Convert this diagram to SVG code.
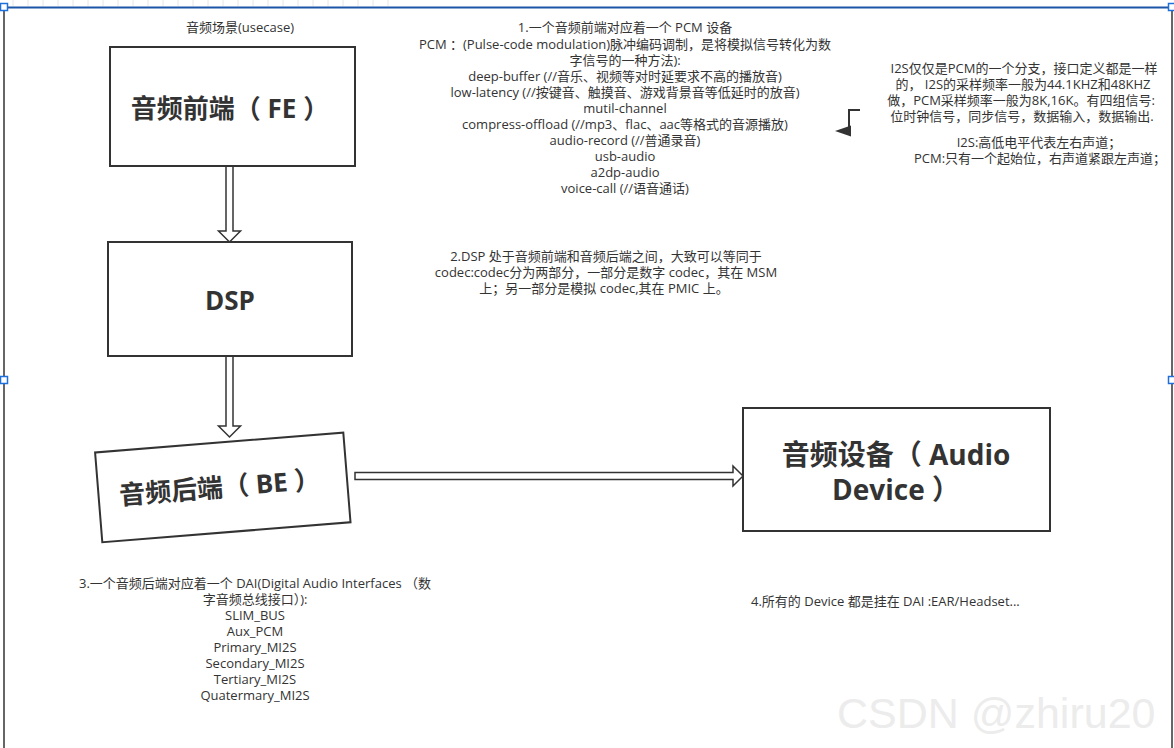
<svg xmlns="http://www.w3.org/2000/svg" width="1174" height="748" viewBox="0 0 1174 748">
<style>
.t{font-family:"Open Sans","Noto Sans CJK SC",sans-serif;font-size:13px;fill:#333;text-anchor:middle}
.l{text-anchor:start}
.b{font-family:"Open Sans","Noto Sans CJK SC",sans-serif;font-weight:bold;fill:#333;text-anchor:middle}
.box{fill:#fff;stroke:#333;stroke-width:2}
.arr{fill:#fff;stroke:#333;stroke-width:1.5;stroke-linejoin:miter}
.h{fill:#fff;stroke:#1e6fd9;stroke-width:1.5}
.g{stroke:#e6e6e6;stroke-width:1}
</style>
<rect x="0" y="0" width="1174" height="748" fill="#fff"/>
<g id="grid">
<path class="g" d="M13,0V6M28,0V6M43,0V6M58,0V6M73,0V6M88,0V6M103,0V6M118,0V6M133,0V6M148,0V6M163,0V6M178,0V6M193,0V6M208,0V6M223,0V6M238,0V6M253,0V6M268,0V6M283,0V6M298,0V6M313,0V6M328,0V6M343,0V6M358,0V6M373,0V6M388,0V6"/>
</g>
<g id="frame">
<line x1="4" y1="7" x2="4" y2="748" stroke="#333" stroke-width="1.5"/>
<line x1="1172" y1="7" x2="1172" y2="748" stroke="#333" stroke-width="1.5"/>
<line x1="4" y1="7.5" x2="1172" y2="7.5" stroke="#1a55a8" stroke-width="2"/>
<rect class="h" x="0.5" y="3.5" width="7" height="7"/>
<rect class="h" x="1168.5" y="3.5" width="7" height="7"/>
<rect class="h" x="0.5" y="376.5" width="7" height="7"/>
<rect class="h" x="1168.5" y="376.5" width="7" height="7"/>
</g>
<g id="connectors">
<polygon class="arr" points="226,166 233,166 233,231 240.5,231 229.5,242 218.5,231 226,231"/>
<polygon class="arr" points="226,356 233,356 233,426 240.5,426 229.5,437 218.5,426 226,426"/>
<polygon class="arr" points="355,472.5 733,472.5 733,466 743,476 733,486 733,479.5 355,479.5"/>
<path d="M860,110H849V132" fill="none" stroke="#333" stroke-width="2"/>
<polygon points="835,131 851,125.5 851,136.5" fill="#333"/>
</g>
<g id="fe">
<rect class="box" x="110" y="47" width="245" height="119"/>
<text class="b" x="230" y="118" font-size="26">音频前端（ FE ）</text>
</g>
<g id="dsp">
<rect class="box" x="108" y="242" width="244" height="114"/>
<text class="b" x="230" y="310" font-size="26">DSP</text>
</g>
<g id="be" transform="translate(222.8,487.4) rotate(-4.6)">
<rect class="box" x="-124.5" y="-45" width="249" height="90"/>
<text class="b" x="-3" y="9" font-size="26">音频后端（ BE ）</text>
</g>
<g id="device">
<rect class="box" x="743" y="408" width="307" height="123"/>
<text class="b" x="896" y="465" font-size="28">音频设备（ Audio</text>
<text class="b" x="896" y="500" font-size="28">Device ）</text>
</g>
<g id="labels">
<text class="t" x="240" y="31.5">音频场景(usecase)</text>
<text class="t" x="625" y="31.5">1.一个音频前端对应着一个 PCM 设备</text>
<text class="t" x="625" y="48.5">PCM ：(Pulse-code modulation)脉冲编码调制，是将模拟信号转化为数</text>
<text class="t" x="625" y="64.5">字信号的一种方法):</text>
<text class="t" x="625" y="80.5">deep-buffer (//音乐、视频等对时延要求不高的播放音)</text>
<text class="t" x="625" y="96.5">low-latency (//按键音、触摸音、游戏背景音等低延时的放音)</text>
<text class="t" x="625" y="112.5">mutil-channel</text>
<text class="t" x="625" y="128.5">compress-offload (//mp3、flac、aac等格式的音源播放)</text>
<text class="t" x="625" y="144.5">audio-record (//普通录音)</text>
<text class="t" x="625" y="160.5">usb-audio</text>
<text class="t" x="625" y="176.5">a2dp-audio</text>
<text class="t" x="625" y="192.5">voice-call (//语音通话)</text>

<text class="t" x="1024" y="72.5">I2S仅仅是PCM的一个分支，接口定义都是一样</text>
<text class="t" x="1023" y="88.5">的， I2S的采样频率一般为44.1KHZ和48KHZ</text>
<text class="t" x="1021" y="104.5">做，PCM采样频率一般为8K,16K。有四组信号:</text>
<text class="t" x="1022" y="120.5">位时钟信号，同步信号，数据输入，数据输出.</text>
<text class="t" x="1039" y="146.5">I2S:高低电平代表左右声道；</text>
<text class="t" x="1040" y="162.5">PCM:只有一个起始位，右声道紧跟左声道；</text>

<text class="t" x="606" y="260.5">2.DSP 处于音频前端和音频后端之间，大致可以等同于</text>
<text class="t" x="606" y="276.5">codec:codec分为两部分，一部分是数字 codec，其在 MSM</text>
<text class="t" x="604" y="292.5">上；另一部分是模拟 codec,其在 PMIC 上。</text>

<text class="t" x="255" y="587.5">3.一个音频后端对应着一个 DAI(Digital Audio Interfaces （数</text>
<text class="t" x="255" y="603.5">字音频总线接口）):</text>
<text class="t" x="255" y="619.5">SLIM_BUS</text>
<text class="t" x="255" y="635.5">Aux_PCM</text>
<text class="t" x="255" y="651.5">Primary_MI2S</text>
<text class="t" x="255" y="667.5">Secondary_MI2S</text>
<text class="t" x="255" y="683.5">Tertiary_MI2S</text>
<text class="t" x="255" y="699.5">Quatermary_MI2S</text>

<text class="t l" x="751" y="605.5">4.所有的 Device 都是挂在 DAI :EAR/Headset...</text>
<text x="837" y="728" font-family="Liberation Sans, Arial, sans-serif" font-size="43" fill="#ececec">CSDN @zhiru20</text>
</g>
</svg>
